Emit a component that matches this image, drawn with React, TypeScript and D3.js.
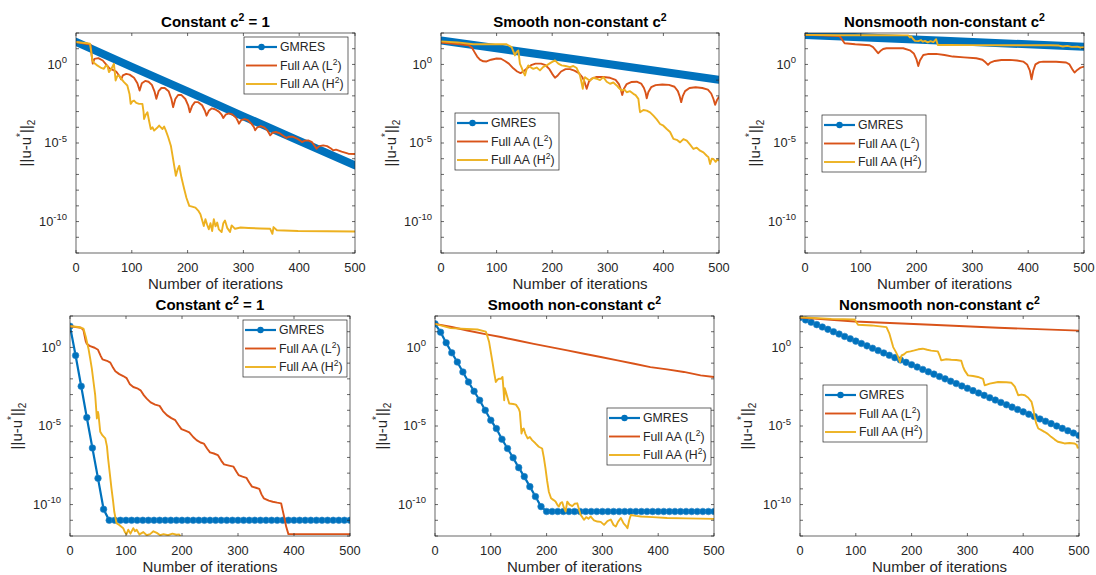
import * as d3 from "d3";

// every point is [iteration, log10 of ||u-u*||_2]
type Pt = [number, number];

const iterTicks = [0, 100, 200, 300, 400, 500];
const decadeTicks = [2, 1, 0, -1, -2, -3, -4, -5, -6, -7, -8, -9, -10, -11, -12];
const labelledDecades = [0, -5, -10];
const seriesNames = ["GMRES", "Full AA (L", "Full AA (H"];

// ---- top row ----
const topConstGmres: Pt[] = [[0, 1.43], [100, -0.15], [200, -1.72], [300, -3.3], [400, -4.86], [500, -6.42]];
const topConstL2: Pt[] = [
  [0, 1.43], [20, 1.3], [26, 1.26], [28, 0.6], [30, 0.05], [33, 0.35], [40, 0.4], [48, 0.25], [55, -0.05],
  [60, -0.25], [66, -0.35], [72, -0.45], [78, -0.75], [81, -0.95], [84, -0.7], [90, -0.6], [96, -0.65],
  [104, -0.85], [110, -1.2], [114, -1.66], [118, -1.2], [124, -1.05], [130, -1.1], [136, -1.3], [141, -1.75],
  [144, -2.19], [148, -1.7], [153, -1.5], [159, -1.5], [166, -1.7], [171, -2.2], [174, -2.72], [178, -2.2],
  [183, -1.95], [189, -1.95], [196, -2.2], [201, -2.6], [204, -3.04], [208, -2.65], [213, -2.4], [219, -2.4],
  [226, -2.6], [231, -2.95], [234, -3.26], [238, -2.95], [243, -2.8], [249, -2.85], [256, -3.0], [261, -3.2],
  [264, -3.41], [268, -3.2], [274, -3.12], [280, -3.18], [287, -3.4], [290, -3.6], [292, -3.77], [296, -3.55],
  [302, -3.48], [308, -3.55], [315, -3.8], [319, -4.0], [321, -4.19], [325, -4.0], [331, -3.92], [337, -4.0],
  [343, -4.2], [346, -4.38], [348, -4.51], [352, -4.35], [358, -4.3], [365, -4.38], [372, -4.55], [377, -4.68],
  [382, -4.6], [388, -4.6], [395, -4.7], [402, -4.85], [405, -4.94], [410, -4.85], [416, -4.83], [423, -4.95],
  [428, -5.2], [431, -5.36], [436, -5.2], [443, -5.15], [450, -5.2], [457, -5.35], [461, -5.47], [466, -5.42],
  [476, -5.55], [488, -5.68], [500, -5.7],
];
const topConstH2: Pt[] = [
  [0, 1.43], [20, 1.35], [25, 1.32], [27, 0.9], [29, 0.3], [32, 0.1], [38, -0.06], [44, -0.2], [50, -0.28],
  [53, -0.1], [56, -0.06], [59, -0.49], [63, -0.3], [68, 0.04], [71, -1.02], [74, -0.75], [77, -0.7], [82, -0.95],
  [86, -1.13], [92, -1.34], [96, -1.9], [98, -2.51], [101, -2.35], [104, -2.3], [108, -2.45], [113, -2.51],
  [119, -2.51], [121, -3.0], [122, -3.47], [125, -3.2], [128, -3.04], [131, -3.6], [134, -4.11], [137, -4.0],
  [140, -4.21], [145, -4.05], [149, -3.89], [152, -4.0], [155, -4.11], [158, -3.95], [161, -4.21], [165, -4.6],
  [170, -5.17], [173, -5.8], [176, -6.45], [179, -7.09], [182, -6.7], [185, -6.45], [189, -7.2], [194, -7.94],
  [198, -8.5], [203, -9.0], [208, -9.05], [214, -9.11], [219, -9.3], [223, -9.53], [226, -9.9], [229, -10.28],
  [232, -9.85], [235, -10.2], [238, -10.49], [241, -10.1], [244, -10.6], [247, -9.85], [250, -10.3], [253, -10.06],
  [256, -10.5], [261, -10.67], [264, -10.1], [267, -9.93], [271, -10.4], [276, -10.67], [279, -10.24], [285, -10.46],
  [295, -10.38], [309, -10.41], [330, -10.44], [348, -10.46], [352, -10.78], [354, -10.35], [360, -10.55],
  [398, -10.6], [450, -10.62], [500, -10.63],
];

const topSmoothGmres: Pt[] = [[0, 1.53], [250, 0.28], [500, -0.98]];
const topSmoothL2: Pt[] = [
  [0, 1.4], [30, 1.3], [50, 1.22], [56, 1.05], [60, 0.8], [65, 0.5], [70, 0.3], [76, 0.2], [82, 0.19], [90, 0.3],
  [100, 0.38], [108, 0.36], [115, 0.22], [122, 0.05], [130, -0.25], [137, -0.45], [143, -0.55], [148, -0.45],
  [155, -0.25], [162, -0.05], [170, 0.05], [180, 0.05], [188, -0.05], [195, -0.3], [200, -0.6], [205, -0.85],
  [210, -0.7], [216, -0.45], [224, -0.3], [232, -0.3], [240, -0.4], [248, -0.55], [254, -0.8], [258, -1.1],
  [262, -1.55], [266, -1.1], [271, -0.9], [280, -0.8], [292, -0.8], [304, -0.85], [314, -0.98], [320, -1.25],
  [323, -1.55], [326, -1.94], [329, -1.55], [334, -1.25], [342, -1.12], [352, -1.1], [360, -1.22], [365, -1.5],
  [368, -1.8], [370, -2.15], [373, -1.75], [378, -1.45], [386, -1.32], [398, -1.28], [410, -1.3], [420, -1.42],
  [426, -1.7], [429, -2.0], [432, -2.4], [435, -2.0], [439, -1.7], [447, -1.5], [458, -1.45], [470, -1.5],
  [480, -1.6], [486, -1.85], [490, -2.2], [493, -2.57], [496, -2.3], [500, -2.05],
];
const topSmoothH2: Pt[] = [
  [0, 1.47], [30, 1.4], [58, 1.28], [118, 1.28], [127, 1.1], [133, 0.57], [136, 0.8], [139, 0.89], [142, 0.04],
  [145, -0.2], [148, -0.49], [151, -0.7], [154, -0.3], [157, -0.06], [162, -0.2], [166, -0.28], [172, -0.2],
  [178, -0.38], [184, -0.15], [190, -0.06], [197, 0.1], [205, 0.26], [211, 0.05], [217, -0.06], [224, -0.1],
  [232, -0.17], [238, -0.1], [244, -0.23], [250, -0.7], [253, -1.2], [255, -1.55], [257, -1.0], [259, -0.81],
  [264, -0.95], [268, -1.02], [274, -0.85], [280, -0.91], [286, -1.0], [292, -0.81], [298, -1.1], [304, -1.23],
  [310, -1.15], [316, -1.34], [320, -1.5], [325, -1.66], [330, -1.6], [334, -1.77], [340, -1.7], [346, -1.87],
  [350, -1.95], [355, -2.19], [357, -2.8], [358, -3.04], [364, -2.9], [370, -2.94], [376, -3.05], [382, -3.26],
  [388, -3.5], [394, -3.79], [400, -3.9], [406, -4.11], [412, -4.3], [418, -4.74], [424, -4.8], [430, -4.96],
  [436, -4.75], [442, -4.85], [448, -5.1], [454, -5.38], [460, -5.3], [466, -5.49], [472, -5.6], [478, -5.81],
  [481, -5.9], [484, -6.34], [487, -6.0], [490, -6.02], [494, -6.2], [497, -6.05], [500, -6.13],
];

const topRoughGmres: Pt[] = [[0, 1.88], [250, 1.5], [500, 1.13]];
const topRoughL2: Pt[] = [
  [0, 1.88], [40, 1.84], [62, 1.8], [66, 1.6], [71, 1.35], [90, 1.28], [116, 1.22], [122, 1.1], [128, 0.85],
  [131, 0.71], [135, 0.85], [140, 0.98], [146, 1.03], [176, 1.03], [188, 0.9], [195, 0.7], [200, 0.3], [203, -0.1],
  [206, 0.25], [212, 0.6], [220, 0.66], [235, 0.67], [250, 0.6], [265, 0.5], [285, 0.45], [307, 0.39], [318, 0.3],
  [324, 0.12], [328, -0.03], [332, 0.12], [340, 0.22], [352, 0.28], [367, 0.29], [380, 0.25], [391, 0.18],
  [398, 0.0], [403, -0.4], [406, -0.94], [409, -0.4], [413, 0.0], [420, 0.15], [427, 0.18], [450, 0.17],
  [468, 0.12], [474, 0.0], [479, -0.3], [483, -0.52], [488, -0.35], [494, -0.2], [500, -0.14],
];
const topRoughH2: Pt[] = [
  [0, 1.88], [60, 1.86], [120, 1.86], [185, 1.85], [188, 1.72], [190, 1.8], [193, 1.65], [197, 1.5], [203, 1.48],
  [208, 1.55], [211, 1.45], [215, 1.5], [220, 1.4], [225, 1.48], [230, 1.42], [235, 1.6], [238, 1.24], [260, 1.24],
  [300, 1.23], [350, 1.22], [400, 1.22], [440, 1.22], [455, 1.2], [462, 1.14], [470, 1.18], [478, 1.12],
  [488, 1.13], [494, 1.08], [500, 1.1],
];

// ---- bottom row (GMRES plotted every 10 iterations) ----
const botConstGmres = [
  1.35, -0.51, -2.47, -4.46, -6.4, -8.33, -10.3, -11.0, -11.0, -11.0, -11.0,
  -11.0, -11.0, -11.0, -11.0, -11.0, -11.0, -11.0, -11.0, -11.0, -11.0,
  -11.0, -11.0, -11.0, -11.0, -11.0, -11.0, -11.0, -11.0, -11.0, -11.0,
  -11.0, -11.0, -11.0, -11.0, -11.0, -11.0, -11.0, -11.0, -11.0, -11.0,
  -11.0, -11.0, -11.0, -11.0, -11.0, -11.0, -11.0, -11.0, -11.0, -11.0,
];
const botConstL2: Pt[] = [
  [0, 1.35], [20, 1.25], [24, 1.1], [28, 0.4], [30, 0.23], [36, 0.08], [44, -0.02], [50, -0.15], [55, -0.55],
  [58, -0.76], [66, -0.85], [72, -0.97], [77, -1.3], [81, -1.52], [88, -1.7], [95, -1.82], [101, -1.95],
  [107, -2.35], [113, -2.52], [120, -2.6], [126, -2.73], [132, -3.05], [137, -3.26], [144, -3.5], [152, -3.64],
  [160, -3.72], [166, -4.05], [173, -4.31], [181, -4.5], [188, -4.63], [194, -4.95], [199, -5.2], [206, -5.3],
  [213, -5.4], [220, -5.7], [226, -5.9], [233, -6.05], [239, -6.12], [245, -6.45], [250, -6.68], [257, -6.75],
  [264, -6.85], [270, -7.2], [275, -7.44], [284, -7.52], [292, -7.59], [297, -7.9], [301, -8.12], [308, -8.22],
  [315, -8.3], [320, -8.6], [325, -8.86], [332, -8.93], [338, -9.0], [342, -9.35], [346, -9.6], [355, -9.75],
  [362, -9.82], [370, -9.88], [377, -9.92], [380, -10.4], [383, -10.87], [386, -11.4], [390, -11.88], [500, -11.88],
];
const botConstH2: Pt[] = [
  [0, 1.35], [15, 1.3], [24, 1.2], [28, 0.7], [33, -0.08], [36, -0.7], [39, -1.35], [42, -2.2], [45, -3.04],
  [48, -4.52], [50, -4.1], [51, -4.3], [54, -5.37], [58, -5.6], [63, -5.79], [66, -6.3], [68, -7.06], [71, -8.0],
  [74, -8.96], [77, -9.8], [79, -10.44], [83, -11.18], [88, -11.3], [95, -11.5], [98, -11.75], [101, -11.88],
  [104, -11.6], [108, -11.85], [113, -11.5], [116, -11.7], [119, -11.6], [124, -11.9], [131, -11.75],
  [137, -11.95], [143, -11.88], [149, -11.7], [155, -11.8], [161, -11.95], [167, -11.88], [175, -11.95],
  [183, -11.85], [190, -11.92], [195, -11.9], [200, -12.2], [500, -12.5],
];

const botSmoothGmres = [
  1.5, 0.97, 0.3, -0.34, -0.93, -1.56, -2.2, -2.79, -3.36, -4.0, -4.63,
  -5.16, -5.84, -6.43, -7.02, -7.65, -8.22, -8.86, -9.49, -10.13, -10.44,
  -10.44, -10.44, -10.44, -10.44, -10.44, -10.44, -10.44, -10.44, -10.44, -10.44,
  -10.44, -10.44, -10.44, -10.44, -10.44, -10.44, -10.44, -10.44, -10.44, -10.44,
  -10.44, -10.44, -10.44, -10.44, -10.44, -10.44, -10.44, -10.44, -10.44, -10.44,
];
const botSmoothL2: Pt[] = [
  [0, 1.5], [30, 1.3], [58, 1.08], [90, 0.85], [118, 0.66], [148, 0.44], [177, 0.23], [207, 0.02], [237, -0.19],
  [267, -0.4], [297, -0.61], [327, -0.82], [357, -1.04], [386, -1.25], [416, -1.4], [446, -1.56], [476, -1.78],
  [500, -1.88],
];
const botSmoothH2: Pt[] = [
  [0, 1.5], [28, 1.23], [76, 1.14], [91, 1.01], [94, 0.7], [97, 0.34], [100, -0.3], [103, -0.93], [106, -1.6],
  [109, -2.2], [112, -2.05], [115, -1.99], [118, -2.0], [121, -1.88], [123, -2.8], [124, -3.36], [125, -2.6],
  [127, -2.83], [130, -3.2], [133, -3.57], [140, -3.6], [145, -3.64], [150, -3.9], [152, -4.1], [154, -5.0],
  [155, -5.48], [157, -5.2], [159, -5.16], [162, -5.5], [166, -5.79], [170, -5.7], [174, -5.9], [180, -6.1],
  [186, -6.32], [192, -6.43], [195, -7.0], [198, -7.7], [201, -8.5], [204, -9.18], [208, -9.6], [212, -9.7],
  [216, -9.81], [219, -10.0], [222, -10.13], [225, -9.9], [228, -9.85], [231, -10.2], [234, -10.44], [237, -9.81],
  [241, -10.0], [246, -10.1], [250, -9.95], [255, -9.92], [258, -10.3], [261, -10.66], [264, -10.8], [267, -10.97],
  [271, -10.8], [275, -10.9], [279, -10.76], [285, -11.0], [291, -11.08], [297, -11.1], [303, -11.29], [309, -11.05],
  [315, -10.95], [320, -11.3], [324, -11.4], [328, -11.1], [333, -10.85], [338, -11.2], [342, -11.35], [345, -11.5],
  [348, -11.0], [351, -10.66], [360, -10.72], [369, -10.76], [390, -10.8], [416, -10.85], [450, -10.88], [500, -10.91],
];

const botRoughGmres = [
  1.9, 1.75, 1.6, 1.45, 1.3, 1.15, 1.0, 0.85, 0.7, 0.55, 0.4,
  0.25, 0.1, -0.05, -0.2, -0.35, -0.5, -0.65, -0.8, -0.95, -1.1,
  -1.25, -1.4, -1.55, -1.7, -1.85, -2.0, -2.15, -2.3, -2.45, -2.6,
  -2.75, -2.9, -3.05, -3.2, -3.35, -3.5, -3.65, -3.8, -3.95, -4.1,
  -4.25, -4.4, -4.55, -4.7, -4.85, -5.0, -5.15, -5.3, -5.45, -5.6,
];
const botRoughL2: Pt[] = [[0, 1.9], [98, 1.65], [235, 1.44], [355, 1.25], [500, 1.07]];
const botRoughH2: Pt[] = [
  [0, 1.92], [56, 1.82], [98, 1.78], [101, 1.6], [104, 1.44], [128, 1.4], [155, 1.29], [160, 0.9], [167, 0.02],
  [172, -0.3], [176, -0.6], [179, -0.93], [182, -0.51], [186, -0.45], [191, -0.3], [198, -0.25], [205, -0.19],
  [212, -0.12], [220, -0.08], [228, -0.15], [235, -0.2], [247, -0.25], [250, -0.5], [253, -0.82], [262, -0.75],
  [271, -0.78], [280, -0.8], [289, -0.85], [292, -1.2], [295, -1.46], [301, -1.78], [310, -1.82], [319, -1.88],
  [328, -2.0], [331, -2.41], [340, -2.3], [355, -2.2], [370, -2.22], [379, -2.25], [385, -2.5], [391, -3.04],
  [397, -3.0], [403, -3.04], [409, -3.2], [415, -3.47], [418, -3.9], [420, -4.31], [423, -4.8], [427, -5.16],
  [432, -5.25], [438, -5.37], [444, -5.5], [450, -5.69], [456, -5.85], [462, -6.0], [468, -6.05], [474, -6.11],
  [483, -6.08], [492, -6.11], [496, -6.2], [498, -6.43],
];

const BLUE = "#0072BD";
const RED = "#D95319";
const YELLOW = "#EDB120";
const AXIS = "#262626";
const FONT = "'Liberation Sans', Arial, Helvetica, sans-serif";
const LW = 1.9;

interface PanelProps {
  id: string;
  left: number;
  top: number;
  width: number;
  height: number;
  title: [string, string];
  gmres: Pt[];
  markers: boolean;
  l2: Pt[];
  h2: Pt[];
  legend: [number, number];
  ylabGap: number;
}

function Legend({ x, y }: { x: number; y: number }) {
  const w = 104;
  const h = 57;
  const rows = [y + 10, y + 28.5, y + 47];
  const colors = [BLUE, RED, YELLOW];
  return (
    <g>
      <rect x={x} y={y} width={w} height={h} fill="#fff" stroke={AXIS} strokeWidth={0.7} />
      {seriesNames.map((name, i) => (
        <g key={name}>
          <line x1={x + 2} x2={x + 33} y1={rows[i]} y2={rows[i]} stroke={colors[i]} strokeWidth={i === 0 ? 2.2 : LW} />
          {i === 0 && <circle cx={x + 17.5} cy={rows[i]} r={3.2} fill={BLUE} />}
          <text x={x + 36} y={rows[i] + 4.4} fontSize={12.3} fill={AXIS}>
            {name}
            {i > 0 && (
              <>
                <tspan dy={-5} fontSize={8.5}>2</tspan>
                <tspan dy={5}>)</tspan>
              </>
            )}
          </text>
        </g>
      ))}
    </g>
  );
}

function Panel(p: PanelProps) {
  const right = p.left + p.width;
  const bottom = p.top + p.height;
  const x = d3.scaleLinear().domain([0, 500]).range([p.left, right]);
  const y = d3.scaleLog().domain([1e-12, 1e2]).range([bottom, p.top]);
  const line = d3
    .line<Pt>()
    .x((d) => x(d[0]))
    .y((d) => y(Math.pow(10, d[1])));
  const clipId = `clip-${p.id}`;
  const tick = 3;

  return (
    <g fontFamily={FONT}>
      <defs>
        <clipPath id={clipId}>
          <rect x={p.left} y={p.top} width={p.width} height={p.height} />
        </clipPath>
      </defs>

      <g clipPath={`url(#${clipId})`}>
        {p.markers ? (
          <g>
            <path d={line(p.gmres) || ""} fill="none" stroke={BLUE} strokeWidth={2.2} />
            {p.gmres.map((d) => (
              <circle key={d[0]} cx={x(d[0])} cy={y(Math.pow(10, d[1]))} r={3.3} fill={BLUE} stroke="#2a86c8" strokeWidth={0.6} />
            ))}
          </g>
        ) : (
          <path d={line(p.gmres) || ""} fill="none" stroke={BLUE} strokeWidth={8} strokeLinecap="round" />
        )}
        <path d={line(p.l2) || ""} fill="none" stroke={RED} strokeWidth={LW} strokeLinejoin="round" />
        <path d={line(p.h2) || ""} fill="none" stroke={YELLOW} strokeWidth={LW} strokeLinejoin="round" />
      </g>

      {/* box + ticks */}
      <rect x={p.left} y={p.top} width={p.width} height={p.height} fill="none" stroke={AXIS} strokeWidth={0.7} />
      {iterTicks.map((t) => (
        <g key={`x${t}`}>
          <line x1={x(t)} x2={x(t)} y1={bottom} y2={bottom - tick} stroke={AXIS} strokeWidth={0.7} />
          <line x1={x(t)} x2={x(t)} y1={p.top} y2={p.top + tick} stroke={AXIS} strokeWidth={0.7} />
          <text x={x(t)} y={bottom + 18.5} textAnchor="middle" fontSize={12.8} fill={AXIS}>
            {t}
          </text>
        </g>
      ))}
      {decadeTicks.map((e) => (
        <g key={`y${e}`}>
          <line x1={p.left} x2={p.left + tick} y1={y(Math.pow(10, e))} y2={y(Math.pow(10, e))} stroke={AXIS} strokeWidth={0.7} />
          <line x1={right} x2={right - tick} y1={y(Math.pow(10, e))} y2={y(Math.pow(10, e))} stroke={AXIS} strokeWidth={0.7} />
        </g>
      ))}
      {labelledDecades.map((e) => (
        <text key={`yl${e}`} x={p.left - 9} y={y(Math.pow(10, e)) + 4.4} textAnchor="end" fontSize={12.8} fill={AXIS}>
          10
          <tspan dy={-5.5} fontSize={9.5}>
            {e}
          </tspan>
        </text>
      ))}

      {/* title */}
      <text x={(p.left + right) / 2} y={p.top - 6.5} textAnchor="middle" fontSize={15} fontWeight="bold" fill="#000">
        {p.title[0]}
        <tspan dy={-6} fontSize={10.5}>2</tspan>
        <tspan dy={6}>{p.title[1]}</tspan>
      </text>

      {/* axis labels */}
      <text x={(p.left + right) / 2} y={bottom + 35.5} textAnchor="middle" fontSize={15} fill={AXIS}>
        Number of iterations
      </text>
      <text
        transform={`translate(${p.left - p.ylabGap},${(p.top + bottom) / 2}) rotate(-90)`}
        textAnchor="middle"
        fontSize={15}
        fill={AXIS}
      >
        ||u-u
        <tspan dy={-7} fontSize={10}>*</tspan>
        <tspan dy={7}>||</tspan>
        <tspan dy={4} fontSize={10}>2</tspan>
      </text>

      <Legend x={p.legend[0]} y={p.legend[1]} />
    </g>
  );
}

const every10 = (vals: number[]): Pt[] => vals.map((v, i) => [i * 10, v]);

export default function App() {
  const titles: [string, string][] = [
    ["Constant c", " = 1"],
    ["Smooth non-constant c", ""],
    ["Nonsmooth non-constant c", ""],
  ];
  return (
    <svg width={1096} height={575} style={{ position: "absolute", left: 0, top: 0, background: "#fff" }}>
      <rect width={1096} height={575} fill="#fff" />
      <Panel id="t1" left={76} top={33} width={279} height={220} title={titles[0]} gmres={topConstGmres} markers={false}
        l2={topConstL2} h2={topConstH2} legend={[244, 37]} ylabGap={45.5} />
      <Panel id="t2" left={441} top={33} width={278} height={220} title={titles[1]} gmres={topSmoothGmres} markers={false}
        l2={topSmoothL2} h2={topSmoothH2} legend={[455, 113]} ylabGap={45.5} />
      <Panel id="t3" left={805} top={33} width={279} height={220} title={titles[2]} gmres={topRoughGmres} markers={false}
        l2={topRoughL2} h2={topRoughH2} legend={[822, 115]} ylabGap={45.5} />
      <Panel id="b1" left={70} top={316} width={280} height={220} title={titles[0]} gmres={every10(botConstGmres)} markers
        l2={botConstL2} h2={botConstH2} legend={[243, 320]} ylabGap={48} />
      <Panel id="b2" left={435} top={316} width={279} height={220} title={titles[1]} gmres={every10(botSmoothGmres)} markers
        l2={botSmoothL2} h2={botSmoothH2} legend={[607, 408]} ylabGap={48} />
      <Panel id="b3" left={800} top={316} width={279} height={220} title={titles[2]} gmres={every10(botRoughGmres)} markers
        l2={botRoughL2} h2={botRoughH2} legend={[823, 385]} ylabGap={48} />
    </svg>
  );
}
